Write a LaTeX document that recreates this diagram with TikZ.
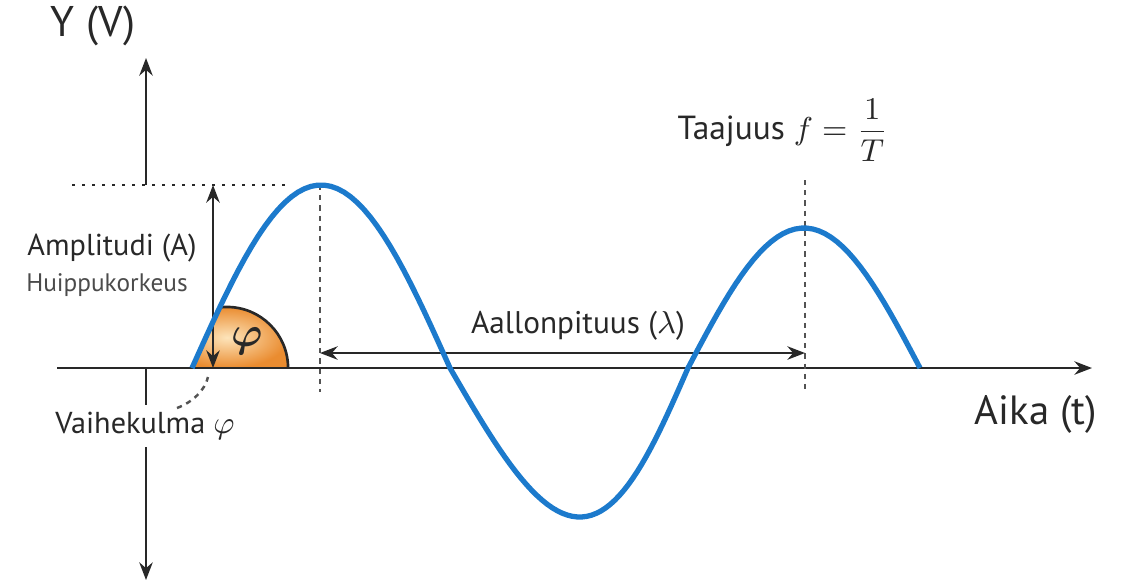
\documentclass[tikz,border=0pt]{standalone}
\usepackage{amsmath}
\usepackage{fontspec}
\setmainfont{PT Sans}
\usetikzlibrary{arrows.meta}

\definecolor{wave}{RGB}{28,122,204}
\definecolor{ink}{RGB}{40,40,40}
\definecolor{soft}{RGB}{75,75,75}
\definecolor{phiedge}{RGB}{234,140,48}
\definecolor{phicore}{RGB}{253,228,186}

\begin{document}
\begin{tikzpicture}[x=0.01cm, y=-0.01cm, >={Stealth[length=5pt,width=3.8pt]},
    axis/.style={ink, line width=0.7pt},
    guide/.style={ink!80, line width=0.7pt, dash pattern=on 1.5pt off 1.4pt},
    lbl/.style={text=ink, inner sep=0pt}]
  \useasboundingbox (0,0) rectangle (1125,584);

  % anchor points
  \coordinate (xl) at (57,368);
  \coordinate (xr) at (1092,368);
  \coordinate (ytop) at (146,58);
  \coordinate (ycut) at (146,185);
  \coordinate (yo) at (146,368);
  \coordinate (ybot) at (146,580);
  \coordinate (peakA) at (320,185);
  \coordinate (peakB) at (805,180);
  \coordinate (footA) at (320,392);
  \coordinate (footB) at (805,392);
  \coordinate (dotl) at (72,185);
  \coordinate (dotr) at (292,185);
  \coordinate (amptop) at (213,185);
  \coordinate (ampbot) at (213,368);
  \coordinate (lamL) at (320,353);
  \coordinate (lamR) at (805,353);
  \coordinate (lead) at (177,408);
  \coordinate (phifoot) at (208,377);

  % phase sector, cut by the first arch
  \begin{scope}
    \clip plot[domain=0:1, samples=40] ({192+258*\x},{368-183*sin(180*\x)}) -- cycle;
    \shade[inner color=phicore, outer color=phiedge] (166,368) arc[start angle=180, end angle=0, radius=0.61cm] -- cycle;
    \draw[ink, line width=0.75pt] (166,368) arc[start angle=180, end angle=0, radius=0.61cm];
  \end{scope}

  % axes
  \draw[axis,->] (xl) -- (xr);
  \draw[axis,->] (ycut) -- (ytop);
  \draw[axis,->] (yo) -- (ybot);

  % guides
  \draw[ink, line width=0.75pt, dash pattern=on 0.75pt off 2.1pt] (dotl) -- (dotr);
  \draw[guide] (peakA) -- (footA);
  \draw[guide] (peakB) -- (footB);
  \draw[axis,<->] (ampbot) -- (amptop);
  \draw[axis,<->] (lamL) -- (lamR);

  % the wave
  \draw[wave, line width=1.5pt, line join=round]
    plot[domain=0:1, samples=40] ({192+258*\x},{368-183*sin(180*\x)})
    -- plot[domain=0:1, samples=50] ({450+238*(\x+0.045*sin(180*\x))},{368+149*sin(180*\x)})
    -- plot[domain=0:1, samples=40] ({688+232*\x},{368-140*sin(180*\x)});

  % labels
  \node[lbl] (phi) at (247,341) {\fontsize{13}{13}\selectfont$\boldsymbol{\varphi}$};
  \node[lbl, fill=white, inner sep=2pt] (vaihe) at (145,426) {\fontsize{8.6}{9}\selectfont Vaihekulma $\varphi$};
  \draw[guide] (lead) .. controls (193,402) and (205,390) .. (phifoot);
  \node[lbl] (yname) at (93,26) {\fontsize{12.2}{13}\selectfont Y (V)};
  \node[lbl] (aika) at (1036,414) {\fontsize{11.6}{12}\selectfont Aika (t)};
  \node[lbl] (ampl) at (112,248) {\fontsize{8.6}{9}\selectfont Amplitudi (A)};
  \node[lbl, text=soft] (huippu) at (107,285) {\fontsize{7.2}{8}\selectfont Huippukorkeus};
  \node[lbl] (aallon) at (578,326) {\fontsize{8.9}{10}\selectfont Aallonpituus ($\lambda$)};
  \node[lbl] (taaj) at (783,130) {\fontsize{9.5}{10}\selectfont Taajuus $f = \dfrac{1}{T}$};
\end{tikzpicture}
\end{document}
